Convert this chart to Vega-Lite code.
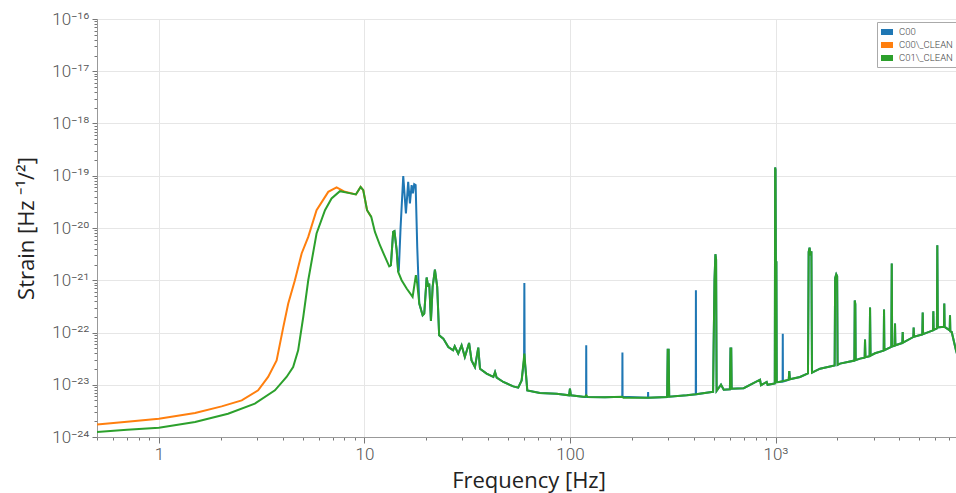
{
  "$schema": "https://vega.github.io/schema/vega-lite/v6.json",
  "width": 863,
  "height": 418,
  "autosize": {"type": "none"},
  "padding": {"left": 97, "top": 19, "right": 0, "bottom": 56},
  "background": "white",
  "config": {"view": {"stroke": "#999", "strokeWidth": 1}},
  "data": {"values": [
    {"s":"C00","f":13.2,"v":1.85e-21},{"s":"C00","f":13.45,"v":1.94e-21},{"s":"C00","f":13.8,"v":8.42e-21},{"s":"C00","f":14.0,"v":8.7e-21},
    {"s":"C00","f":14.35,"v":3.76e-21},{"s":"C00","f":14.6,"v":1.44e-21},{"s":"C00","f":14.7,"v":1.56e-21},{"s":"C00","f":15.0,"v":1.05e-20},
    {"s":"C00","f":15.45,"v":9.83e-20},{"s":"C00","f":15.92,"v":1.9e-20},{"s":"C00","f":16.33,"v":7.64e-20},{"s":"C00","f":16.65,"v":2.95e-20},
    {"s":"C00","f":16.97,"v":6.61e-20},{"s":"C00","f":17.22,"v":4.58e-20},{"s":"C00","f":17.47,"v":6.9e-20},{"s":"C00","f":17.75,"v":6.61e-20},
    {"s":"C00","f":18.07,"v":4.35e-21},{"s":"C00","f":18.49,"v":3.58e-22},{"s":"C00","f":19.2,"v":2.14e-22},{"s":"C00","f":19.55,"v":2.3e-22},
    {"s":"C00","f":20.08,"v":1.13e-21},{"s":"C00","f":20.44,"v":7.44e-22},{"s":"C00","f":20.67,"v":8.65e-22},{"s":"C00","f":21.07,"v":1.66e-22},
    {"s":"C00","f":21.47,"v":7.44e-22},{"s":"C00","f":22.03,"v":1.6e-21},{"s":"C00","f":22.6,"v":7.44e-22},{"s":"C00","f":23.1,"v":8.83e-23},
    {"s":"C00","f":24.2,"v":7.64e-23},{"s":"C00","f":25.6,"v":5.27e-23},{"s":"C00","f":27.0,"v":4.56e-23},{"s":"C00","f":27.5,"v":5.44e-23},
    {"s":"C00","f":28.6,"v":3.94e-23},{"s":"C00","f":29.7,"v":5.69e-23},{"s":"C00","f":30.8,"v":3.4e-23},{"s":"C00","f":32.3,"v":6.3e-23},
    {"s":"C00","f":33.2,"v":2.93e-23},{"s":"C00","f":34.5,"v":2.18e-23},{"s":"C00","f":35.8,"v":5.14e-23},{"s":"C00","f":36.5,"v":2.03e-23},
    {"s":"C00","f":39.3,"v":1.63e-23},{"s":"C00","f":42.4,"v":1.41e-23},{"s":"C00","f":43.2,"v":1.75e-23},{"s":"C00","f":44.0,"v":1.37e-23},
    {"s":"C00","f":47.4,"v":1.13e-23},{"s":"C00","f":53.0,"v":9.31e-24},{"s":"C00","f":56.0,"v":8.8e-24},{"s":"C00","f":58.2,"v":1.21e-23},
    {"s":"C00","f":59.8,"v":3.0e-23},{"s":"C00","f":60.0,"v":8.87e-22},{"s":"C00","f":60.2,"v":3.0e-23},{"s":"C00","f":61.0,"v":1.73e-23},
    {"s":"C00","f":62.0,"v":7.81e-24},{"s":"C00","f":71.4,"v":6.93e-24},{"s":"C00","f":86.1,"v":6.75e-24},{"s":"C00","f":99.0,"v":6.27e-24},
    {"s":"C00","f":100.0,"v":8.4e-24},{"s":"C00","f":101.0,"v":6.27e-24},{"s":"C00","f":118,"v":5.85e-24},{"s":"C00","f":119.8,"v":5.85e-24},
    {"s":"C00","f":120,"v":5.69e-23},{"s":"C00","f":120.2,"v":5.85e-24},{"s":"C00","f":148,"v":5.75e-24},{"s":"C00","f":179.7,"v":5.9e-24},
    {"s":"C00","f":180,"v":4.12e-23},{"s":"C00","f":180.3,"v":5.9e-24},{"s":"C00","f":239.6,"v":5.66e-24},{"s":"C00","f":240,"v":7.24e-24},
    {"s":"C00","f":240.4,"v":5.66e-24},{"s":"C00","f":297,"v":5.8e-24},{"s":"C00","f":299,"v":4.7e-23},{"s":"C00","f":302,"v":4.7e-23},
    {"s":"C00","f":304,"v":5.9e-24},{"s":"C00","f":370,"v":6.27e-24},{"s":"C00","f":409.3,"v":6.55e-24},{"s":"C00","f":410,"v":6.43e-22},
    {"s":"C00","f":410.7,"v":6.55e-24},{"s":"C00","f":489,"v":7.24e-24},{"s":"C00","f":497,"v":7.3e-24},{"s":"C00","f":500,"v":5.7e-23},
    {"s":"C00","f":505,"v":1.0e-21},{"s":"C00","f":510,"v":3.15e-21},{"s":"C00","f":514,"v":2.5e-21},{"s":"C00","f":517,"v":7.6e-24},
    {"s":"C00","f":543,"v":1.0e-23},{"s":"C00","f":560,"v":8.0e-24},{"s":"C00","f":600,"v":8.2e-24},{"s":"C00","f":604,"v":4.92e-23},
    {"s":"C00","f":609,"v":4.92e-23},{"s":"C00","f":612,"v":8.4e-24},{"s":"C00","f":700,"v":8.6e-24},{"s":"C00","f":841,"v":1.25e-23},
    {"s":"C00","f":850,"v":9.8e-24},{"s":"C00","f":906,"v":1.13e-23},{"s":"C00","f":915,"v":1.0e-23},{"s":"C00","f":976,"v":1.05e-23},
    {"s":"C00","f":992,"v":1.06e-23},{"s":"C00","f":996,"v":1.44e-19},{"s":"C00","f":1000,"v":1.3e-19},{"s":"C00","f":1004,"v":2.2e-21},
    {"s":"C00","f":1010,"v":2.2e-21},{"s":"C00","f":1014,"v":1.12e-23},{"s":"C00","f":1040,"v":1.13e-23},{"s":"C00","f":1083,"v":1.15e-23},
    {"s":"C00","f":1085,"v":9.5e-23},{"s":"C00","f":1087,"v":1.15e-23},{"s":"C00","f":1160,"v":1.25e-23},{"s":"C00","f":1167,"v":1.83e-23},
    {"s":"C00","f":1175,"v":1.27e-23},{"s":"C00","f":1316,"v":1.41e-23},{"s":"C00","f":1439,"v":1.65e-23},{"s":"C00","f":1450,"v":3.5e-21},
    {"s":"C00","f":1465,"v":4.2e-21},{"s":"C00","f":1480,"v":3.0e-21},{"s":"C00","f":1495,"v":3.6e-21},{"s":"C00","f":1505,"v":1.7e-23},
    {"s":"C00","f":1647,"v":2.03e-23},{"s":"C00","f":1940,"v":2.35e-23},{"s":"C00","f":1950,"v":1.1e-21},{"s":"C00","f":1975,"v":1.3e-21},
    {"s":"C00","f":1995,"v":1.2e-21},{"s":"C00","f":2005,"v":2.4e-23},{"s":"C00","f":2060,"v":2.54e-23},{"s":"C00","f":2420,"v":2.9e-23},
    {"s":"C00","f":2430,"v":4.1e-22},{"s":"C00","f":2445,"v":3.5e-22},{"s":"C00","f":2455,"v":2.95e-23},{"s":"C00","f":2578,"v":3.16e-23},
    {"s":"C00","f":2715,"v":3.3e-23},{"s":"C00","f":2726,"v":7.3e-23},{"s":"C00","f":2740,"v":3.35e-23},{"s":"C00","f":2870,"v":3.5e-23},
    {"s":"C00","f":2884,"v":3.0e-22},{"s":"C00","f":2900,"v":3.6e-23},{"s":"C00","f":3049,"v":4.0e-23},{"s":"C00","f":3360,"v":4.5e-23},
    {"s":"C00","f":3373,"v":2.75e-22},{"s":"C00","f":3386,"v":4.6e-23},{"s":"C00","f":3660,"v":5.3e-23},{"s":"C00","f":3678,"v":2.09e-21},
    {"s":"C00","f":3695,"v":5.4e-23},{"s":"C00","f":3800,"v":5.6e-23},{"s":"C00","f":3815,"v":1.48e-22},{"s":"C00","f":3830,"v":5.7e-23},
    {"s":"C00","f":4036,"v":6.1e-23},{"s":"C00","f":4140,"v":6.3e-23},{"s":"C00","f":4158,"v":1.02e-22},{"s":"C00","f":4175,"v":6.4e-23},
    {"s":"C00","f":4685,"v":8.2e-23},{"s":"C00","f":4700,"v":1.24e-22},{"s":"C00","f":4720,"v":8.3e-23},{"s":"C00","f":5180,"v":9.2e-23},
    {"s":"C00","f":5202,"v":2.4e-22},{"s":"C00","f":5225,"v":9.3e-23},{"s":"C00","f":5840,"v":1.1e-22},{"s":"C00","f":5861,"v":2.55e-22},
    {"s":"C00","f":5880,"v":1.12e-22},{"s":"C00","f":6100,"v":1.2e-22},{"s":"C00","f":6127,"v":4.68e-21},{"s":"C00","f":6160,"v":1.25e-22},
    {"s":"C00","f":6440,"v":1.27e-22},{"s":"C00","f":6600,"v":1.28e-22},{"s":"C00","f":6625,"v":3.58e-22},{"s":"C00","f":6650,"v":1.28e-22},
    {"s":"C00","f":7040,"v":1.1e-22},{"s":"C00","f":7063,"v":2.14e-22},{"s":"C00","f":7090,"v":1.05e-22},{"s":"C00","f":7200,"v":1.02e-22},
    {"s":"C00","f":7550,"v":4.56e-23},{"s":"C00","f":7700,"v":3.5e-23},

    {"s":"C00\\_CLEAN","f":0.5,"v":1.74e-24},{"s":"C00\\_CLEAN","f":0.7,"v":1.96e-24},{"s":"C00\\_CLEAN","f":1.0,"v":2.24e-24},
    {"s":"C00\\_CLEAN","f":1.5,"v":2.87e-24},{"s":"C00\\_CLEAN","f":2.02,"v":3.86e-24},{"s":"C00\\_CLEAN","f":2.53,"v":5.03e-24},
    {"s":"C00\\_CLEAN","f":3.04,"v":7.81e-24},{"s":"C00\\_CLEAN","f":3.4,"v":1.41e-23},{"s":"C00\\_CLEAN","f":3.74,"v":2.93e-23},
    {"s":"C00\\_CLEAN","f":4.03,"v":1.27e-22},{"s":"C00\\_CLEAN","f":4.26,"v":3.58e-22},{"s":"C00\\_CLEAN","f":4.59,"v":1.0e-21},
    {"s":"C00\\_CLEAN","f":4.95,"v":3.25e-21},{"s":"C00\\_CLEAN","f":5.33,"v":6.76e-21},{"s":"C00\\_CLEAN","f":5.85,"v":2.19e-20},
    {"s":"C00\\_CLEAN","f":6.67,"v":4.92e-20},{"s":"C00\\_CLEAN","f":7.32,"v":5.97e-20},{"s":"C00\\_CLEAN","f":8.04,"v":4.92e-20},
    {"s":"C00\\_CLEAN","f":9.09,"v":4.38e-20},{"s":"C00\\_CLEAN","f":9.58,"v":6.12e-20},{"s":"C00\\_CLEAN","f":9.87,"v":5.3e-20},
    {"s":"C00\\_CLEAN","f":10.3,"v":2.19e-20},{"s":"C00\\_CLEAN","f":10.8,"v":1.63e-20},

    {"s":"C01\\_CLEAN","f":0.5,"v":1.24e-24},{"s":"C01\\_CLEAN","f":0.7,"v":1.37e-24},{"s":"C01\\_CLEAN","f":1.0,"v":1.5e-24},
    {"s":"C01\\_CLEAN","f":1.5,"v":1.93e-24},{"s":"C01\\_CLEAN","f":2.17,"v":2.79e-24},{"s":"C01\\_CLEAN","f":2.93,"v":4.35e-24},
    {"s":"C01\\_CLEAN","f":3.67,"v":7.81e-24},{"s":"C01\\_CLEAN","f":4.18,"v":1.41e-23},{"s":"C01\\_CLEAN","f":4.5,"v":2.18e-23},
    {"s":"C01\\_CLEAN","f":4.76,"v":4.56e-23},{"s":"C01\\_CLEAN","f":5.04,"v":1.98e-22},{"s":"C01\\_CLEAN","f":5.33,"v":1.0e-21},
    {"s":"C01\\_CLEAN","f":5.85,"v":7.85e-21},{"s":"C01\\_CLEAN","f":6.43,"v":2.19e-20},{"s":"C01\\_CLEAN","f":6.92,"v":3.67e-20},
    {"s":"C01\\_CLEAN","f":7.6,"v":5.07e-20},{"s":"C01\\_CLEAN","f":8.34,"v":4.7e-20},{"s":"C01\\_CLEAN","f":9.09,"v":4.38e-20},
    {"s":"C01\\_CLEAN","f":9.58,"v":6.12e-20},{"s":"C01\\_CLEAN","f":9.87,"v":5.3e-20},{"s":"C01\\_CLEAN","f":10.3,"v":2.19e-20},
    {"s":"C01\\_CLEAN","f":10.8,"v":1.63e-20},{"s":"C01\\_CLEAN","f":11.25,"v":8.42e-21},{"s":"C01\\_CLEAN","f":11.9,"v":4.68e-21},
    {"s":"C01\\_CLEAN","f":12.6,"v":2.79e-21},{"s":"C01\\_CLEAN","f":13.2,"v":1.85e-21},{"s":"C01\\_CLEAN","f":13.45,"v":1.94e-21},
    {"s":"C01\\_CLEAN","f":13.8,"v":8.42e-21},{"s":"C01\\_CLEAN","f":14.0,"v":8.7e-21},{"s":"C01\\_CLEAN","f":14.35,"v":3.76e-21},
    {"s":"C01\\_CLEAN","f":14.6,"v":1.44e-21},{"s":"C01\\_CLEAN","f":15.17,"v":1.0e-21},{"s":"C01\\_CLEAN","f":16.05,"v":6.93e-22},
    {"s":"C01\\_CLEAN","f":17.16,"v":4.79e-22},{"s":"C01\\_CLEAN","f":17.8,"v":1.25e-21},{"s":"C01\\_CLEAN","f":18.07,"v":8.65e-22},
    {"s":"C01\\_CLEAN","f":18.49,"v":3.58e-22},{"s":"C01\\_CLEAN","f":19.2,"v":2.14e-22},{"s":"C01\\_CLEAN","f":19.55,"v":2.3e-22},
    {"s":"C01\\_CLEAN","f":20.08,"v":1.13e-21},{"s":"C01\\_CLEAN","f":20.44,"v":7.44e-22},{"s":"C01\\_CLEAN","f":20.67,"v":8.65e-22},
    {"s":"C01\\_CLEAN","f":21.07,"v":1.66e-22},{"s":"C01\\_CLEAN","f":21.47,"v":7.44e-22},{"s":"C01\\_CLEAN","f":22.03,"v":1.6e-21},
    {"s":"C01\\_CLEAN","f":22.6,"v":7.44e-22},{"s":"C01\\_CLEAN","f":23.1,"v":8.83e-23},{"s":"C01\\_CLEAN","f":24.2,"v":7.64e-23},
    {"s":"C01\\_CLEAN","f":25.6,"v":5.27e-23},{"s":"C01\\_CLEAN","f":27.0,"v":4.56e-23},{"s":"C01\\_CLEAN","f":27.5,"v":5.44e-23},
    {"s":"C01\\_CLEAN","f":28.6,"v":3.94e-23},{"s":"C01\\_CLEAN","f":29.7,"v":5.69e-23},{"s":"C01\\_CLEAN","f":30.8,"v":3.4e-23},
    {"s":"C01\\_CLEAN","f":32.3,"v":6.3e-23},{"s":"C01\\_CLEAN","f":33.2,"v":2.93e-23},{"s":"C01\\_CLEAN","f":34.5,"v":2.18e-23},
    {"s":"C01\\_CLEAN","f":35.8,"v":5.14e-23},{"s":"C01\\_CLEAN","f":36.5,"v":2.03e-23},{"s":"C01\\_CLEAN","f":39.3,"v":1.63e-23},
    {"s":"C01\\_CLEAN","f":42.4,"v":1.41e-23},{"s":"C01\\_CLEAN","f":43.2,"v":1.75e-23},{"s":"C01\\_CLEAN","f":44.0,"v":1.37e-23},
    {"s":"C01\\_CLEAN","f":47.4,"v":1.13e-23},{"s":"C01\\_CLEAN","f":53.0,"v":9.31e-24},{"s":"C01\\_CLEAN","f":56.0,"v":8.8e-24},
    {"s":"C01\\_CLEAN","f":58.2,"v":1.21e-23},{"s":"C01\\_CLEAN","f":60.0,"v":3.94e-23},{"s":"C01\\_CLEAN","f":61.0,"v":1.73e-23},
    {"s":"C01\\_CLEAN","f":62.0,"v":7.81e-24},{"s":"C01\\_CLEAN","f":71.4,"v":6.93e-24},{"s":"C01\\_CLEAN","f":86.1,"v":6.75e-24},
    {"s":"C01\\_CLEAN","f":99.0,"v":6.27e-24},{"s":"C01\\_CLEAN","f":100.0,"v":8.4e-24},{"s":"C01\\_CLEAN","f":101.0,"v":6.27e-24},
    {"s":"C01\\_CLEAN","f":118,"v":5.85e-24},{"s":"C01\\_CLEAN","f":120,"v":6.3e-24},{"s":"C01\\_CLEAN","f":122,"v":5.8e-24},
    {"s":"C01\\_CLEAN","f":148,"v":5.75e-24},{"s":"C01\\_CLEAN","f":180,"v":5.9e-24},{"s":"C01\\_CLEAN","f":182,"v":5.66e-24},
    {"s":"C01\\_CLEAN","f":240,"v":5.66e-24},{"s":"C01\\_CLEAN","f":297,"v":5.8e-24},{"s":"C01\\_CLEAN","f":299,"v":4.7e-23},
    {"s":"C01\\_CLEAN","f":302,"v":4.7e-23},{"s":"C01\\_CLEAN","f":304,"v":5.9e-24},{"s":"C01\\_CLEAN","f":370,"v":6.27e-24},
    {"s":"C01\\_CLEAN","f":410,"v":6.55e-24},{"s":"C01\\_CLEAN","f":489,"v":7.24e-24},{"s":"C01\\_CLEAN","f":497,"v":7.3e-24},
    {"s":"C01\\_CLEAN","f":500,"v":5.7e-23},{"s":"C01\\_CLEAN","f":505,"v":1.0e-21},{"s":"C01\\_CLEAN","f":510,"v":3.15e-21},
    {"s":"C01\\_CLEAN","f":514,"v":2.5e-21},{"s":"C01\\_CLEAN","f":517,"v":7.6e-24},{"s":"C01\\_CLEAN","f":543,"v":1.0e-23},
    {"s":"C01\\_CLEAN","f":560,"v":8.0e-24},{"s":"C01\\_CLEAN","f":600,"v":8.2e-24},{"s":"C01\\_CLEAN","f":604,"v":4.92e-23},
    {"s":"C01\\_CLEAN","f":609,"v":4.92e-23},{"s":"C01\\_CLEAN","f":612,"v":8.4e-24},{"s":"C01\\_CLEAN","f":700,"v":8.6e-24},
    {"s":"C01\\_CLEAN","f":841,"v":1.25e-23},{"s":"C01\\_CLEAN","f":850,"v":9.8e-24},{"s":"C01\\_CLEAN","f":906,"v":1.13e-23},
    {"s":"C01\\_CLEAN","f":915,"v":1.0e-23},{"s":"C01\\_CLEAN","f":976,"v":1.05e-23},{"s":"C01\\_CLEAN","f":992,"v":1.06e-23},
    {"s":"C01\\_CLEAN","f":996,"v":1.44e-19},{"s":"C01\\_CLEAN","f":1000,"v":1.3e-19},{"s":"C01\\_CLEAN","f":1004,"v":2.2e-21},
    {"s":"C01\\_CLEAN","f":1010,"v":2.2e-21},{"s":"C01\\_CLEAN","f":1014,"v":1.12e-23},{"s":"C01\\_CLEAN","f":1040,"v":1.13e-23},
    {"s":"C01\\_CLEAN","f":1160,"v":1.25e-23},{"s":"C01\\_CLEAN","f":1167,"v":1.83e-23},{"s":"C01\\_CLEAN","f":1175,"v":1.27e-23},
    {"s":"C01\\_CLEAN","f":1316,"v":1.41e-23},{"s":"C01\\_CLEAN","f":1439,"v":1.65e-23},{"s":"C01\\_CLEAN","f":1450,"v":3.5e-21},
    {"s":"C01\\_CLEAN","f":1465,"v":4.2e-21},{"s":"C01\\_CLEAN","f":1480,"v":3.0e-21},{"s":"C01\\_CLEAN","f":1495,"v":3.6e-21},
    {"s":"C01\\_CLEAN","f":1505,"v":1.7e-23},{"s":"C01\\_CLEAN","f":1647,"v":2.03e-23},{"s":"C01\\_CLEAN","f":1940,"v":2.35e-23},
    {"s":"C01\\_CLEAN","f":1950,"v":1.1e-21},{"s":"C01\\_CLEAN","f":1975,"v":1.3e-21},{"s":"C01\\_CLEAN","f":1995,"v":1.2e-21},
    {"s":"C01\\_CLEAN","f":2005,"v":2.4e-23},{"s":"C01\\_CLEAN","f":2060,"v":2.54e-23},{"s":"C01\\_CLEAN","f":2420,"v":2.9e-23},
    {"s":"C01\\_CLEAN","f":2430,"v":4.1e-22},{"s":"C01\\_CLEAN","f":2445,"v":3.5e-22},{"s":"C01\\_CLEAN","f":2455,"v":2.95e-23},
    {"s":"C01\\_CLEAN","f":2578,"v":3.16e-23},{"s":"C01\\_CLEAN","f":2715,"v":3.3e-23},{"s":"C01\\_CLEAN","f":2726,"v":7.3e-23},
    {"s":"C01\\_CLEAN","f":2740,"v":3.35e-23},{"s":"C01\\_CLEAN","f":2870,"v":3.5e-23},{"s":"C01\\_CLEAN","f":2884,"v":3.0e-22},
    {"s":"C01\\_CLEAN","f":2900,"v":3.6e-23},{"s":"C01\\_CLEAN","f":3049,"v":4.0e-23},{"s":"C01\\_CLEAN","f":3360,"v":4.5e-23},
    {"s":"C01\\_CLEAN","f":3373,"v":2.75e-22},{"s":"C01\\_CLEAN","f":3386,"v":4.6e-23},{"s":"C01\\_CLEAN","f":3660,"v":5.3e-23},
    {"s":"C01\\_CLEAN","f":3678,"v":2.09e-21},{"s":"C01\\_CLEAN","f":3695,"v":5.4e-23},{"s":"C01\\_CLEAN","f":3800,"v":5.6e-23},
    {"s":"C01\\_CLEAN","f":3815,"v":1.48e-22},{"s":"C01\\_CLEAN","f":3830,"v":5.7e-23},{"s":"C01\\_CLEAN","f":4036,"v":6.1e-23},
    {"s":"C01\\_CLEAN","f":4140,"v":6.3e-23},{"s":"C01\\_CLEAN","f":4158,"v":1.02e-22},{"s":"C01\\_CLEAN","f":4175,"v":6.4e-23},
    {"s":"C01\\_CLEAN","f":4685,"v":8.2e-23},{"s":"C01\\_CLEAN","f":4700,"v":1.24e-22},{"s":"C01\\_CLEAN","f":4720,"v":8.3e-23},
    {"s":"C01\\_CLEAN","f":5180,"v":9.2e-23},{"s":"C01\\_CLEAN","f":5202,"v":2.4e-22},{"s":"C01\\_CLEAN","f":5225,"v":9.3e-23},
    {"s":"C01\\_CLEAN","f":5840,"v":1.1e-22},{"s":"C01\\_CLEAN","f":5861,"v":2.55e-22},{"s":"C01\\_CLEAN","f":5880,"v":1.12e-22},
    {"s":"C01\\_CLEAN","f":6100,"v":1.2e-22},{"s":"C01\\_CLEAN","f":6127,"v":4.68e-21},{"s":"C01\\_CLEAN","f":6160,"v":1.25e-22},
    {"s":"C01\\_CLEAN","f":6440,"v":1.27e-22},{"s":"C01\\_CLEAN","f":6600,"v":1.28e-22},{"s":"C01\\_CLEAN","f":6625,"v":3.58e-22},
    {"s":"C01\\_CLEAN","f":6650,"v":1.28e-22},{"s":"C01\\_CLEAN","f":7040,"v":1.1e-22},{"s":"C01\\_CLEAN","f":7063,"v":2.14e-22},
    {"s":"C01\\_CLEAN","f":7090,"v":1.05e-22},{"s":"C01\\_CLEAN","f":7200,"v":1.02e-22},{"s":"C01\\_CLEAN","f":7550,"v":4.56e-23},
    {"s":"C01\\_CLEAN","f":7700,"v":3.5e-23}
  ]},
  "mark": {"type": "line", "strokeWidth": 2, "clip": true},
  "encoding": {
    "x": {
      "field": "f", "type": "quantitative",
      "scale": {"type": "log", "domain": [0.5, 7900], "nice": false},
      "axis": {
        "title": "Frequency [Hz]",
        "values": [0.5,0.6,0.7,0.8,0.9,1,2,3,4,5,6,7,8,9,10,20,30,40,50,60,70,80,90,100,200,300,400,500,600,700,800,900,1000,2000,3000,4000,5000,6000,7000],
        "labelExpr": "abs(log(datum.value)/LN10 - round(log(datum.value)/LN10)) < 0.001 ? ['1','10','100','10³'][round(log(datum.value)/LN10)] : ''",
        "labelOverlap": false, "labelFlush": false, "labelBound": false,
        "labelFont": "Roboto", "labelFontWeight": 300, "labelFontSize": 17, "labelColor": "#555", "labelPadding": 3,
        "tickSize": {"condition": {"test": "abs(log(datum.value)/LN10 - round(log(datum.value)/LN10)) < 0.001", "value": 6}, "value": 3},
        "tickColor": "#777",
        "gridOpacity": {"condition": {"test": "abs(log(datum.value)/LN10 - round(log(datum.value)/LN10)) < 0.001", "value": 1}, "value": 0},
        "gridColor": "#e6e6e6",
        "domainColor": "#999",
        "titleFont": "Open Sans", "titleFontSize": 22, "titleFontWeight": "normal", "titleColor": "#222",
        "titleY": 50, "titleBaseline": "alphabetic"
      }
    },
    "y": {
      "field": "v", "type": "quantitative",
      "scale": {"type": "log", "domain": [1e-24, 1e-16], "nice": false},
      "axis": {
        "title": "Strain [Hz ⁻¹/²]",
        "values": [1e-24,2e-24,3e-24,4e-24,5e-24,6e-24,7e-24,8e-24,9e-24,1e-23,2e-23,3e-23,4e-23,5e-23,6e-23,7e-23,8e-23,9e-23,1e-22,2e-22,3e-22,4e-22,5e-22,6e-22,7e-22,8e-22,9e-22,1e-21,2e-21,3e-21,4e-21,5e-21,6e-21,7e-21,8e-21,9e-21,1e-20,2e-20,3e-20,4e-20,5e-20,6e-20,7e-20,8e-20,9e-20,1e-19,2e-19,3e-19,4e-19,5e-19,6e-19,7e-19,8e-19,9e-19,1e-18,2e-18,3e-18,4e-18,5e-18,6e-18,7e-18,8e-18,9e-18,1e-17,2e-17,3e-17,4e-17,5e-17,6e-17,7e-17,8e-17,9e-17,1e-16],
        "labelExpr": "abs(log(datum.value)/LN10 - round(log(datum.value)/LN10)) < 0.001 ? ['10⁻¹⁶','10⁻¹⁷','10⁻¹⁸','10⁻¹⁹','10⁻²⁰','10⁻²¹','10⁻²²','10⁻²³','10⁻²⁴'][-round(log(datum.value)/LN10) - 16] : ''",
        "labelOverlap": false, "labelFlush": false, "labelBound": false,
        "labelFont": "Roboto", "labelFontWeight": 300, "labelFontSize": 17, "labelColor": "#555", "labelPadding": 3,
        "tickSize": {"condition": {"test": "abs(log(datum.value)/LN10 - round(log(datum.value)/LN10)) < 0.001", "value": 5}, "value": 3},
        "tickColor": "#777",
        "gridOpacity": {"condition": {"test": "abs(log(datum.value)/LN10 - round(log(datum.value)/LN10)) < 0.001", "value": 1}, "value": 0},
        "gridColor": "#e6e6e6",
        "domainColor": "#999",
        "titleFont": "Open Sans", "titleFontSize": 22, "titleFontWeight": "normal", "titleColor": "#222",
        "titleX": -71, "titleY": 209, "titleBaseline": "middle", "titleAlign": "center"
      }
    },
    "color": {
      "field": "s", "type": "nominal",
      "scale": {"domain": ["C00", "C00\\_CLEAN", "C01\\_CLEAN"], "range": ["#1f77b4", "#ff7f0e", "#2ca02c"]},
      "legend": {
        "title": null, "orient": "top-right", "offset": 3,
        "fillColor": "white", "strokeColor": "#aaa", "padding": 4,
        "symbolType": "M-1,-0.5H1V0.5H-1Z", "symbolSize": 144, "symbolStrokeWidth": 0,
        "labelFont": "Roboto", "labelFontWeight": 300, "labelFontSize": 9.5, "labelColor": "#444",
        "rowPadding": 2, "labelOffset": 6,
        "encode": {"symbols": {"update": {"fill": {"scale": "color", "field": "value"}, "fillOpacity": {"value": 1}}}}
      }
    }
  }
}
